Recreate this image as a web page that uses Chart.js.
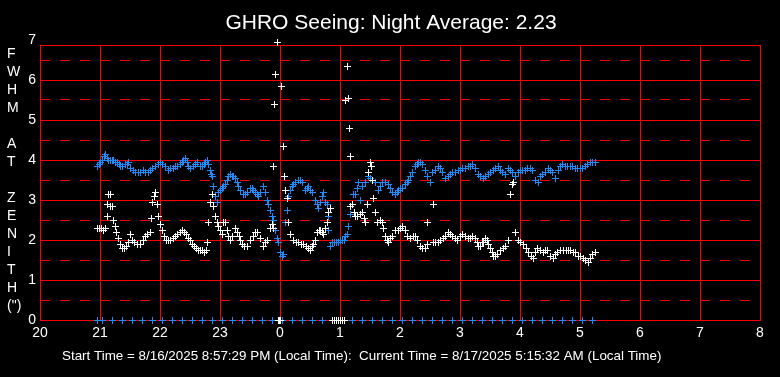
<!DOCTYPE html>
<html>
<head>
<meta charset="utf-8">
<script src="https://cdn.jsdelivr.net/npm/chart.js@4.4.0/dist/chart.umd.min.js"></script>
<style>
html,body{margin:0;padding:0;background:#000;}
canvas{display:block;background:#000;}
</style>
</head>
<body>
<canvas id="c" width="780" height="377"></canvas>
<script>
// ---------- texts ----------
const chartTitle = 'GHRO Seeing: Night Average: 2.23';
const footerText = 'Start Time = 8/16/2025 8:57:29 PM (Local Time):  Current Time = 8/17/2025 5:15:32 AM (Local Time)';
const yAxisLetters = ['F','W','H','M','','A','T','','Z','E','N','I','T','H','(")'];
const xTickLabels = ['20','21','22','23','0','1','2','3','4','5','6','7','8'];
const yTickLabels = ['0','1','2','3','4','5','6','7'];
const yHalfLines = [0.5, 1.5, 2.5, 3.5, 4.5, 5.5, 6.5];

// ---------- data (time = minutes after 20:00 local, value = FWHM arcsec) ----------
const whiteMinutes = [
 57,59,61,63,65,67,67,68,70,70,
 72,73,75,76,78,80,82,84,86,88,
 90,92,94,97,100,103,105,107,110,111,
 112,114,115,117,118,120,122,124,126,128,
 130,133,135,137,140,142,144,146,148,150,
 152,154,156,158,160,162,164,166,167,168,
 170,172,173,175,177,178,180,182,183,185,
 187,188,190,192,195,197,199,200,202,204,
 207,210,213,215,217,220,223,225,227,230,
 232,233,233,234,235,237,238,239,240,241,
 243,244,245,247,248,250,253,256,258,261,
 263,266,268,270,272,273,275,277,279,280,
 282,283,285,287,288,290,292,294,296,298,
 300,302,304,305,307,308,309,310,310,312,
 314,315,317,320,322,324,325,327,328,330,
 331,332,333,335,337,340,342,343,345,347,
 348,350,352,355,358,360,362,365,367,370,
 373,375,377,380,382,385,387,387,393,393,
 395,398,400,403,405,408,410,412,415,417,
 420,422,425,428,430,432,435,437,438,440,
 442,443,445,447,448,450,452,453,455,457,
 460,463,465,468,470,472,473,475,478,480,
 483,486,488,491,493,495,497,500,503,505,
 507,510,513,515,517,520,523,526,528,530,
 533,535,538,540,543,545,548,550,552,555
];
const whiteFwhm = [
 2.30,2.28,2.30,2.25,2.30,2.58,2.88,3.13,3.13,2.83,
 2.83,2.50,2.33,2.20,2.05,1.88,1.80,1.78,1.83,1.95,
 2.15,2.00,1.93,1.88,1.90,2.00,2.10,2.15,2.18,2.55,
 2.93,3.08,3.18,2.88,2.60,2.38,2.25,2.10,2.00,1.98,
 2.00,2.03,2.08,2.13,2.18,2.23,2.20,2.13,2.05,1.98,
 1.90,1.83,1.78,1.75,1.75,1.73,1.70,1.75,1.93,2.45,
 2.93,3.13,2.83,2.58,2.45,2.33,2.25,2.13,2.43,2.43,
 2.25,2.08,2.00,2.10,2.30,2.20,2.10,1.98,1.88,1.83,
 1.85,1.98,2.10,2.18,2.18,2.05,1.85,1.93,2.00,2.30,
 2.38,3.83,2.30,5.40,6.15,6.95,0,0,0,5.83,
 4.33,3.60,3.25,3.05,2.43,2.13,2.00,1.95,1.93,1.90,
 1.88,1.83,1.80,1.75,1.83,1.88,2.00,2.18,2.23,2.25,
 2.18,2.13,2.30,2.43,2.68,2.80,0,0,0,0,
 0,0,0,5.48,6.33,5.55,4.78,4.08,2.83,2.90,
 2.70,2.58,2.60,2.65,2.68,2.55,2.45,2.88,3.68,3.95,
 3.85,3.50,3.05,2.68,2.45,2.50,2.45,2.30,2.08,1.98,
 1.93,2.03,2.10,2.23,2.25,2.28,2.33,2.25,2.08,2.05,
 2.08,2.08,2.00,1.85,1.80,1.78,1.90,2.45,2.88,1.93,
 1.93,1.95,1.98,2.05,2.08,2.18,2.13,2.08,2.03,2.00,
 2.08,2.13,2.10,2.03,2.05,2.10,2.03,1.93,1.83,1.85,
 1.93,1.95,2.05,2.00,1.88,1.80,1.70,1.60,1.58,1.63,
 1.73,1.78,1.83,2.00,3.13,3.38,3.43,2.20,2.00,1.93,
 1.88,1.78,1.68,1.60,1.55,1.68,1.80,1.73,1.68,1.73,
 1.73,1.60,1.53,1.63,1.68,1.73,1.75,1.75,1.75,1.73,
 1.70,1.68,1.60,1.58,1.53,1.50,1.45,1.55,1.63,1.70
];
const blueMinutes = [
 57,59,60,62,64,65,67,68,70,72,
 73,75,77,79,80,82,85,87,88,90,
 93,95,98,100,103,105,108,110,112,115,
 118,120,122,125,128,130,133,135,137,140,
 142,143,145,147,148,150,153,155,157,160,
 162,164,165,167,168,170,171,172,173,175,
 177,178,180,182,183,185,187,188,190,192,
 193,195,197,198,200,203,205,207,210,212,
 213,215,217,218,220,223,225,227,228,230,
 232,233,235,237,238,240,242,243,245,247,
 248,250,252,253,255,258,260,262,265,267,
 268,270,272,275,277,278,280,282,283,285,
 287,288,288,290,292,294,296,298,300,302,
 304,305,307,308,310,312,313,315,317,318,
 320,322,325,328,330,332,335,338,340,342,
 345,348,350,352,355,357,358,360,362,365,
 367,368,370,372,375,377,378,380,382,385,
 387,390,392,395,398,400,402,405,408,410,
 412,415,418,420,422,425,428,430,432,435,
 438,440,443,445,448,450,453,455,458,460,
 462,465,468,470,472,475,478,480,482,485,
 487,490,492,495,498,500,502,505,508,510,
 512,515,518,520,522,525,527,530,532,535,
 537,540,542,545,547,550,552,555
];
const blueFwhm = [
 3.83,3.88,3.93,4.00,4.08,4.13,4.05,4.00,4.00,3.98,
 4.00,3.95,3.93,3.88,3.83,3.85,3.88,3.90,3.93,3.78,
 3.73,3.70,3.70,3.68,3.73,3.70,3.70,3.75,3.78,3.83,
 3.90,3.95,3.90,3.83,3.75,3.78,3.80,3.83,3.85,3.88,
 3.93,4.00,4.05,3.95,3.85,3.78,3.83,3.88,3.93,3.85,
 3.83,3.88,3.93,4.00,3.88,3.73,3.63,3.58,3.33,3.08,
 2.95,3.20,3.25,3.30,3.33,3.40,3.50,3.58,3.63,3.60,
 3.58,3.53,3.43,3.35,3.23,3.13,3.15,3.20,3.30,3.28,
 3.25,3.18,3.13,3.08,3.20,3.33,3.18,3.00,2.88,2.75,
 2.58,2.48,2.25,2.05,1.93,1.68,1.58,1.63,2.43,2.75,
 3.08,3.25,3.33,3.38,3.45,3.50,3.48,3.43,3.25,3.30,
 3.33,3.25,3.18,3.00,2.88,2.80,2.93,3.08,3.18,2.95,
 2.88,2.58,2.25,1.83,1.93,1.95,1.93,1.95,1.98,2.00,
 2.00,2.08,2.13,2.33,2.63,2.88,3.13,3.13,3.30,3.43,
 3.00,3.33,3.43,3.58,3.55,3.50,3.43,3.25,3.35,3.43,
 3.45,3.38,3.30,3.20,3.13,3.18,3.25,3.28,3.30,3.38,
 3.45,3.50,3.58,3.68,3.83,3.90,3.93,3.93,3.88,3.75,
 3.58,3.45,3.68,3.75,3.83,3.78,3.70,3.55,3.58,3.63,
 3.68,3.70,3.75,3.75,3.80,3.80,3.83,3.85,3.88,3.78,
 3.63,3.58,3.55,3.58,3.63,3.68,3.75,3.78,3.83,3.75,
 3.68,3.63,3.80,3.73,3.68,3.58,3.68,3.73,3.75,3.75,
 3.80,3.78,3.75,3.48,3.45,3.58,3.63,3.70,3.80,3.73,
 3.68,3.55,3.75,3.83,3.88,3.85,3.83,3.83,3.83,3.80,
 3.80,3.80,3.80,3.85,3.88,3.95,3.95,3.93
];
const markerMinutes = [
 57,62,72,82,92,102,112,122,132,142,
 152,162,172,182,192,202,212,222,232,242,
 252,262,272,282,292,302,312,322,332,342,
 352,362,372,382,392,402,412,422,432,442,
 452,462,472,482,492,502,512,522,532,542,
 552
];
const markerFwhm = [
 0,0,0,0,0,0,0,0,0,0,
 0,0,0,0,0,0,0,0,0,0,
 0,0,0,0,0,0,0,0,0,0,
 0,0,0,0,0,0,0,0,0,0,
 0,0,0,0,0,0,0,0,0,0,
 0
];

// ---------- styling ----------
const FONT = '"Liberation Sans", Arial, Helvetica, sans-serif';
const RED = '#ff0000';
const BLUE = '#1e8cff';
const WHITE = '#ffffff';
const X_MAX = 720;      // minutes shown (20:00 .. 08:00)
const Y_MAX = 6.875;    // top of plotting frame

function plusImage(color) {
  const c = document.createElement('canvas');
  c.width = 7; c.height = 7;
  const g = c.getContext('2d');
  g.fillStyle = color;
  g.fillRect(3, 0, 1, 7);
  g.fillRect(0, 3, 7, 1);
  return c;
}
const toPts = (xs, ys) => xs.map((x, i) => ({x: x, y: ys[i]}));

const crispPoints = {
  id: 'crispPoints',
  beforeDatasetsDraw(chart) { chart.ctx.imageSmoothingEnabled = false; },
  afterDatasetsDraw(chart) { chart.ctx.imageSmoothingEnabled = true; }
};

const textPlugin = {
  id: 'texts',
  afterDraw(chart) {
    const ctx = chart.ctx;
    ctx.save();
    ctx.fillStyle = WHITE;
    ctx.textBaseline = 'alphabetic';
    ctx.font = '21px ' + FONT;
    ctx.textAlign = 'center';
    ctx.fillText(chartTitle, 391, 29);
    ctx.font = '13.4px ' + FONT;
    ctx.textAlign = 'left';
    ctx.fillText(footerText, 62, 360);
    ctx.font = '14px ' + FONT;
    yAxisLetters.forEach((s, i) => ctx.fillText(s, 7, 58 + 18 * i));
    ctx.restore();
  }
};

Chart.defaults.font.family = FONT;
Chart.defaults.color = WHITE;

new Chart(document.getElementById('c'), {
  type: 'scatter',
  data: {
    datasets: [
      { label: 'white', data: toPts(whiteMinutes, whiteFwhm), pointStyle: plusImage(WHITE), pointRadius: 3.5, clip: false },
      { label: 'blue', data: toPts(blueMinutes, blueFwhm), pointStyle: plusImage(BLUE), pointRadius: 3.5, clip: false },
      { label: 'markers', data: toPts(markerMinutes, markerFwhm), pointStyle: plusImage(BLUE), pointRadius: 3.5, clip: false }
    ]
  },
  options: {
    responsive: false,
    animation: false,
    devicePixelRatio: 1,
    events: [],
    layout: { padding: { top: 45, right: 20, left: 0, bottom: 0 } },
    plugins: { legend: { display: false }, title: { display: false }, tooltip: { enabled: false } },
    scales: {
      x: {
        type: 'linear', min: 0, max: X_MAX,
        afterFit(scale) { scale.height = 57; },
        ticks: {
          stepSize: 60, autoSkip: false, maxRotation: 0, padding: 5,
          color: WHITE, font: { size: 14 },
          callback: (v) => xTickLabels[Math.round(v / 60)]
        },
        grid: { color: RED, lineWidth: 1, drawTicks: false },
        border: { color: RED, width: 1 }
      },
      yHalf: {
        type: 'linear', position: 'left', min: 0, max: Y_MAX,
        afterFit(scale) { scale.width = 0; },
        afterBuildTicks(scale) { scale.ticks = yHalfLines.map(v => ({ value: v })); },
        ticks: { display: false },
        grid: { color: RED, lineWidth: 1, drawTicks: false },
        border: { display: false, dash: [10, 10], dashOffset: 0 }
      },
      y: {
        type: 'linear', position: 'left', min: 0, max: Y_MAX,
        afterFit(scale) { scale.width = 40; },
        afterBuildTicks(scale) {
          const t = yTickLabels.map((s, i) => ({ value: i }));
          t.splice(7, 0, { value: Y_MAX });
          scale.ticks = t;
        },
        ticks: {
          autoSkip: false, padding: 4, color: WHITE, font: { size: 14 },
          callback: (v) => Number.isInteger(v) ? yTickLabels[v] : ''
        },
        grid: {
          lineWidth: 1, drawTicks: false,
          color: (ctx) => (ctx.tick && ctx.tick.value > Y_MAX) ? 'rgba(0,0,0,0)' : RED
        },
        border: { color: RED, width: 1 }
      }
    }
  },
  plugins: [crispPoints, textPlugin]
});
</script>
</body>
</html>
